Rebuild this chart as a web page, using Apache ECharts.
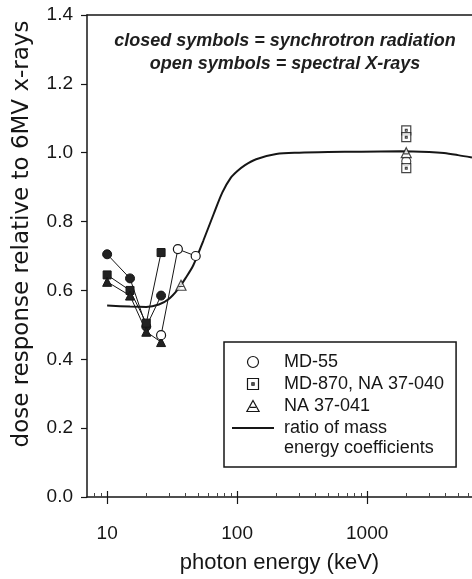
<!DOCTYPE html>
<html>
<head>
<meta charset="utf-8">
<title>Dose response vs photon energy</title>
<script src="https://cdn.jsdelivr.net/npm/echarts@6/dist/echarts.min.js"></script>
<style>
  html, body { margin: 0; padding: 0; background: #fff; }
  #chart { width: 472px; height: 579px; }
</style>
</head>
<body>
<div id="chart"></div>
<script>
// Ratio of mass energy absorption coefficients (solid curve)
const ratioKeV  = [10, 15, 20, 25, 30, 35, 40, 46, 55, 66, 77, 89, 100, 115, 140, 200, 300, 500, 900, 1800, 3000, 3900, 5000, 6400];
const ratioDose = [0.556, 0.553, 0.552, 0.559, 0.576, 0.603, 0.635, 0.673, 0.745, 0.822, 0.885, 0.926, 0.946, 0.964, 0.981, 0.996, 1.000, 1.002, 1.003, 1.004, 1.002, 0.999, 0.993, 0.986];

// Synchrotron radiation (closed symbols)
const md55SyncKeV   = [10, 15, 20, 26];
const md55SyncDose  = [0.705, 0.635, 0.495, 0.585];
const md870SyncKeV  = [10, 15, 20, 26];
const md870SyncDose = [0.645, 0.600, 0.505, 0.710];
const na041SyncKeV  = [10, 15, 20, 26];
const na041SyncDose = [0.625, 0.585, 0.480, 0.450];

// Spectral X-rays (open symbols)
const md55XrayKeV   = [26, 35, 48];
const md55XrayDose  = [0.470, 0.720, 0.700];
const md55CoKeV     = [2000];
const md55CoDose    = [0.975];
const md870XrayKeV  = [2000, 2000, 2000];
const md870XrayDose = [1.065, 1.045, 0.955];
const na041XrayKeV  = [37, 2000];
const na041XrayDose = [0.615, 1.000];

// Axis ticks
const xMajorTicks = [10, 100, 1000];
const xMinorTicks = [8, 9, 20, 30, 40, 50, 60, 70, 80, 90, 200, 300, 400, 500, 600, 700, 800, 900, 2000, 3000, 4000, 5000, 6000];

const FONT = 'Liberation Sans';
const INK = '#161616';
const SQUARE_DOT = 'path://M0,0H10V10H0Z M4,4H6V6H4Z';
const TRIANGLE_BAR = 'path://M5,0L10,9H0Z M2.6,5.6H7.4';
const LINE_ICON = 'path://M0,0H42V1.8H0Z';

const pairs = (xs, ys) => xs.map((x, i) => [x, ys[i]]);

const logAxisBase = {
  type: 'log',
  logBase: 10,
  min: 7,
  max: 6408,
  gridIndex: 0,
  splitLine: { show: false },
  axisLabel: { show: false },
  axisTick: { show: false },
  axisLine: { show: false }
};

const chart = echarts.init(document.getElementById('chart'), null, { renderer: 'canvas' });

const openStyle = { color: '#ffffff', borderColor: INK, borderWidth: 1.2 };
const closedStyle = { color: '#222222', borderColor: INK, borderWidth: 1 };

chart.setOption({
  animation: false,
  backgroundColor: '#ffffff',
  textStyle: { fontFamily: FONT, color: INK },
  title: {
    text: 'closed symbols = synchrotron radiation\nopen symbols = spectral X-rays',
    left: 280,
    top: 25,
    textAlign: 'center',
    textStyle: {
      fontFamily: FONT, fontSize: 18, fontWeight: 'bold', fontStyle: 'italic',
      color: '#1e1e1e', lineHeight: 23
    }
  },
  grid: { left: 87, right: 0, top: 15, bottom: 79 },
  xAxis: [
    Object.assign({}, logAxisBase, {
      position: 'bottom',
      axisLine: { show: true, lineStyle: { color: INK, width: 1.5 } },
      axisTick: { show: true, customValues: xMajorTicks, length: 7, lineStyle: { color: INK, width: 1.2 } },
      axisLabel: {
        show: true, customValues: xMajorTicks, margin: 27, fontSize: 19, color: INK, fontFamily: FONT,
        formatter: v => String(Math.round(v))
      },
      name: 'photon energy (keV)',
      nameLocation: 'middle',
      nameGap: 55,
      nameTextStyle: { fontSize: 22, color: INK, fontFamily: FONT }
    }),
    Object.assign({}, logAxisBase, {
      position: 'top',
      axisLine: { show: true, lineStyle: { color: INK, width: 1.5 } }
    }),
    Object.assign({}, logAxisBase, {
      position: 'bottom',
      axisTick: { show: true, inside: true, customValues: xMajorTicks, length: 6, lineStyle: { color: INK, width: 1.2 } }
    }),
    Object.assign({}, logAxisBase, {
      position: 'bottom',
      axisTick: { show: true, inside: true, customValues: xMinorTicks, length: 4, lineStyle: { color: '#444', width: 1 } }
    })
  ],
  yAxis: {
    type: 'value',
    min: 0,
    max: 1.4,
    interval: 0.2,
    splitLine: { show: false },
    axisLine: { show: true, lineStyle: { color: INK, width: 1.5 } },
    axisTick: { show: true, length: 6, lineStyle: { color: INK, width: 1.2 } },
    axisLabel: { margin: 14, fontSize: 19, color: INK, fontFamily: FONT, formatter: v => v.toFixed(1) }
  },
  legend: {
    orient: 'vertical',
    left: 224,
    top: 342,
    padding: [11, 12, 30, 8],
    itemGap: 4,
    itemWidth: 42,
    itemHeight: 11,
    selectedMode: false,
    backgroundColor: '#ffffff',
    borderColor: INK,
    borderWidth: 1.5,
    borderRadius: 0,
    textStyle: { fontSize: 18, color: INK, fontFamily: FONT, padding: [0, 0, 0, 5] },
    data: [
      { name: 'MD-55', icon: 'circle', itemStyle: openStyle },
      { name: 'MD-870, NA 37-040', icon: SQUARE_DOT, itemStyle: openStyle },
      { name: 'NA 37-041', icon: TRIANGLE_BAR, itemStyle: openStyle },
      { name: 'ratio of mass', icon: LINE_ICON, itemStyle: { color: INK, borderWidth: 0 } }
    ]
  },
  graphic: [
    {
      type: 'text',
      z: 100,
      x: 284,
      y: 448,
      style: { text: 'energy coefficients', fontSize: 18, fontFamily: FONT, fill: INK, align: 'left', verticalAlign: 'middle' }
    },
    {
      type: 'text',
      z: 100,
      x: 22,
      y: 234,
      rotation: Math.PI / 2,
      style: { text: 'dose response relative to 6MV x-rays', fontSize: 23, fontFamily: 'DejaVu Sans', fill: INK, align: 'center', verticalAlign: 'middle' }
    }
  ],
  series: [
    {
      name: 'ratio of mass',
      type: 'line',
      data: pairs(ratioKeV, ratioDose),
      symbol: 'none',
      smooth: 0.3,
      lineStyle: { color: INK, width: 2 },
      z: 2
    },
    {
      name: 'MD-55',
      type: 'line',
      data: pairs(md55SyncKeV, md55SyncDose),
      symbol: 'circle',
      symbolSize: 9,
      itemStyle: closedStyle,
      lineStyle: { color: INK, width: 1 },
      z: 3
    },
    {
      name: 'MD-870, NA 37-040',
      type: 'line',
      data: pairs(md870SyncKeV, md870SyncDose),
      symbol: 'rect',
      symbolSize: 8,
      itemStyle: closedStyle,
      lineStyle: { color: INK, width: 1 },
      z: 3
    },
    {
      name: 'NA 37-041',
      type: 'line',
      data: pairs(na041SyncKeV, na041SyncDose),
      symbol: 'triangle',
      symbolSize: 9,
      itemStyle: closedStyle,
      lineStyle: { color: INK, width: 1 },
      z: 3
    },
    {
      name: 'MD-55',
      type: 'line',
      data: pairs(md55XrayKeV, md55XrayDose),
      symbol: 'circle',
      symbolSize: 9,
      showAllSymbol: true,
      itemStyle: openStyle,
      lineStyle: { color: INK, width: 1 },
      z: 4
    },
    {
      name: 'MD-55',
      type: 'scatter',
      data: pairs(md55CoKeV, md55CoDose),
      symbol: 'circle',
      symbolSize: 9,
      itemStyle: openStyle,
      z: 4
    },
    {
      name: 'MD-870, NA 37-040',
      type: 'scatter',
      data: pairs(md870XrayKeV, md870XrayDose),
      symbol: SQUARE_DOT,
      symbolSize: 9,
      itemStyle: openStyle,
      z: 4
    },
    {
      name: 'NA 37-041',
      type: 'scatter',
      data: pairs(na041XrayKeV, na041XrayDose),
      symbol: TRIANGLE_BAR,
      symbolSize: 10,
      itemStyle: openStyle,
      z: 4
    }
  ]
});
</script>
</body>
</html>
